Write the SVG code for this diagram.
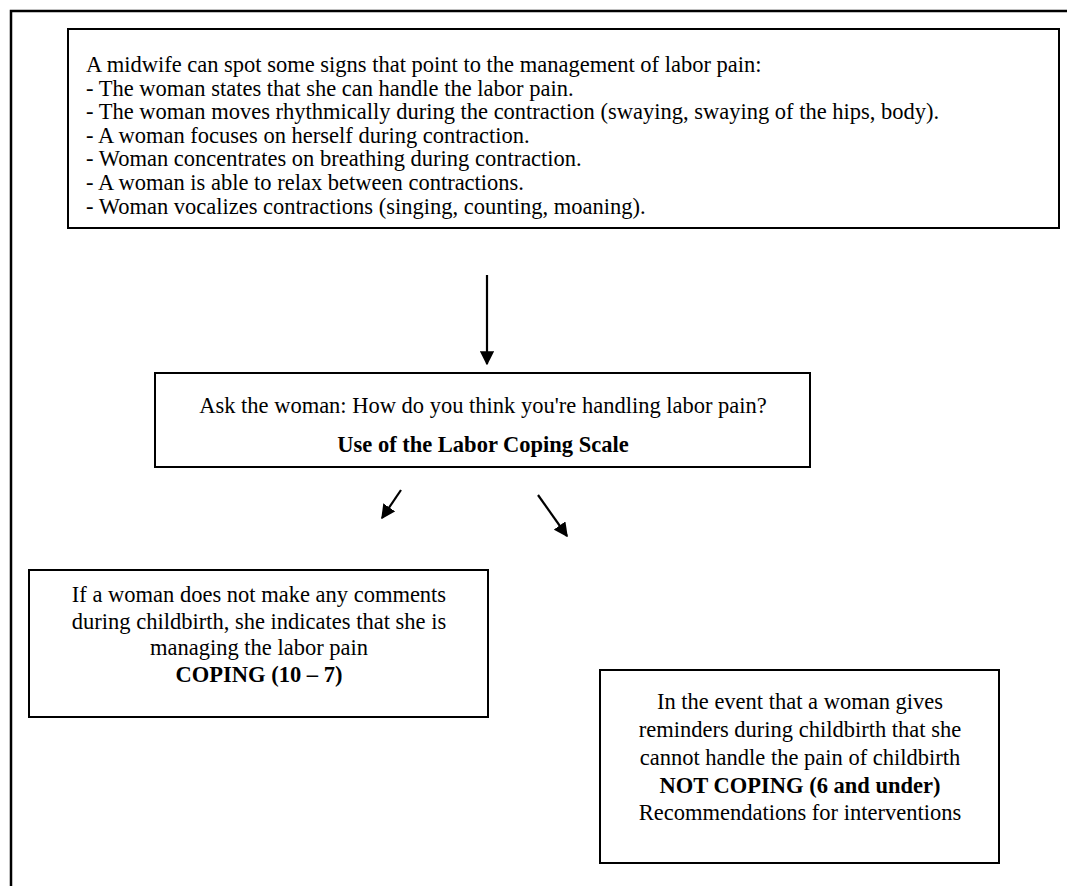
<svg xmlns="http://www.w3.org/2000/svg" width="1067" height="886" viewBox="0 0 1067 886">
<defs>
<style>
.box{fill:#fff;stroke:#000;stroke-width:2}
.t{font-family:"Liberation Serif","Times New Roman",serif;font-size:22.5px;fill:#000}
.c{text-anchor:middle}
.b{font-weight:bold}
.ln{stroke:#000;stroke-width:2.2;fill:none}
</style>
<marker id="ah" viewBox="0 0 10 10" refX="9" refY="5" markerWidth="6.5" markerHeight="6.5" markerUnits="strokeWidth" orient="auto">
<path d="M0,0 L10,5 L0,10 Z" fill="#000"/>
</marker>
</defs>
<rect width="1067" height="886" fill="#fff"/>
<g id="frame">
<path d="M11,886 V11 H1067" stroke="#000" stroke-width="2.5" fill="none"/>
</g>
<g id="signs">
<rect class="box" x="68" y="29" width="991" height="199"/>
<text class="t" x="86" y="72">A midwife can spot some signs that point to the management of labor pain:</text>
<text class="t" x="86" y="95.6">- The woman states that she can handle the labor pain.</text>
<text class="t" x="86" y="119.2">- The woman moves rhythmically during the contraction (swaying, swaying of the hips, body).</text>
<text class="t" x="86" y="142.8">- A woman focuses on herself during contraction.</text>
<text class="t" x="86" y="166.4">- Woman concentrates on breathing during contraction.</text>
<text class="t" x="86" y="190">- A woman is able to relax between contractions.</text>
<text class="t" x="86" y="213.6">- Woman vocalizes contractions (singing, counting, moaning).</text>
</g>
<g id="ask">
<rect class="box" x="155" y="373" width="655" height="94"/>
<text class="t c" x="483" y="413">Ask the woman: How do you think you're handling labor pain?</text>
<text class="t c b" x="483" y="452">Use of the Labor Coping Scale</text>
</g>
<g id="coping">
<rect class="box" x="29" y="570" width="459" height="147"/>
<text class="t c" x="259" y="602">If a woman does not make any comments</text>
<text class="t c" x="259" y="628.5">during childbirth, she indicates that she is</text>
<text class="t c" x="259" y="655">managing the labor pain</text>
<text class="t c b" x="259" y="681.5">COPING (10 – 7)</text>
</g>
<g id="notcoping">
<rect class="box" x="600" y="670" width="399" height="193"/>
<text class="t c" x="800" y="709">In the event that a woman gives</text>
<text class="t c" x="800" y="737">reminders during childbirth that she</text>
<text class="t c" x="800" y="765">cannot handle the pain of childbirth</text>
<text class="t c b" x="800" y="793">NOT COPING (6 and under)</text>
<text class="t c" x="800" y="820">Recommendations for interventions</text>
</g>
<g id="connectors">
<line class="ln" x1="487" y1="275" x2="487" y2="364" marker-end="url(#ah)"/>
<line class="ln" x1="401" y1="490" x2="382" y2="518" marker-end="url(#ah)"/>
<line class="ln" x1="538" y1="495" x2="567" y2="536" marker-end="url(#ah)"/>
</g>
</svg>
